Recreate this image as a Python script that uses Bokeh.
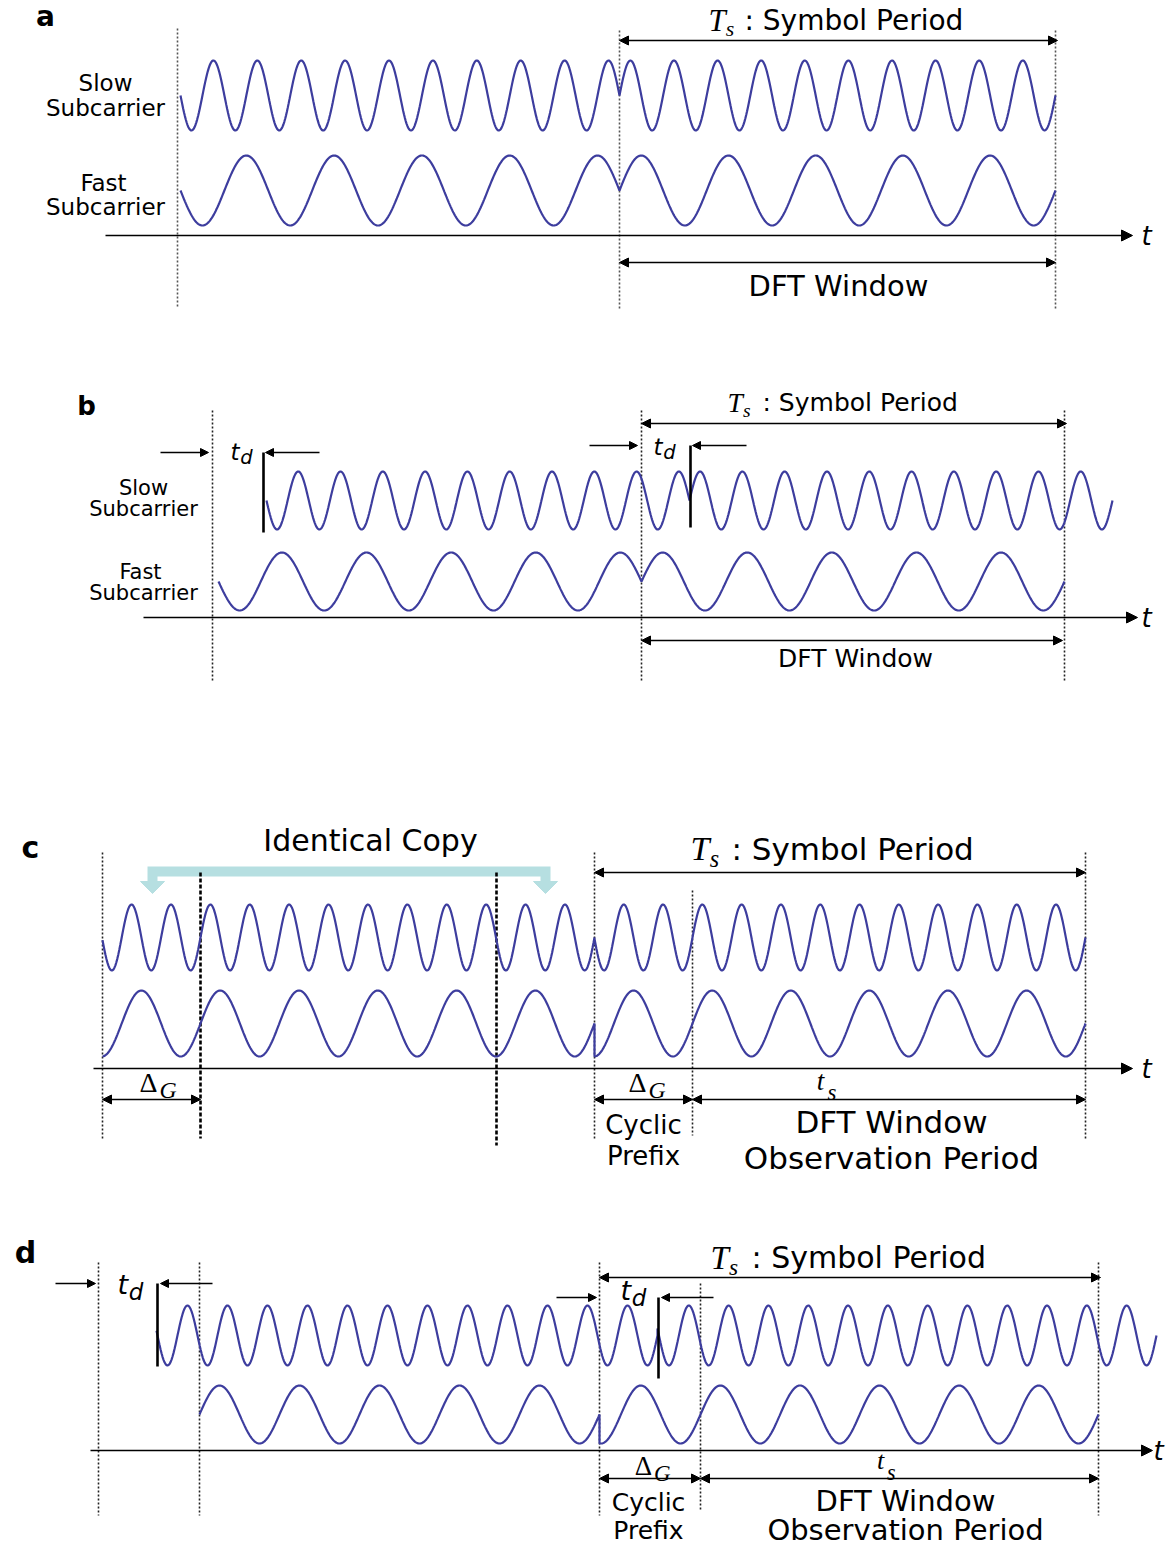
import numpy as np
from bokeh.plotting import figure
from bokeh.models import Range1d, Arrow, NormalHead
from bokeh.core.properties import value
from bokeh.embed import file_html
from bokeh.resources import INLINE

# ---------------------------------------------------------------------------
# Timing of the OFDM symbols (time measured along each panel's t axis)
# ---------------------------------------------------------------------------
A_EDGES = [180, 619, 1055]          # symbol boundaries, no guard interval
A_SIGNS = [-1, 1]                   # phase of each symbol
B_EDGES = [218, 641, 1064]
B_SIGNS = [-1, 1]
B_DELAY = 48                        # t_d of the delayed (upper) carrier
C_EDGES = [102, 594, 1085]          # symbols with cyclic prefix
C_CP = 98                           # Delta_G
D_EDGES = [98, 599, 1098]
D_CP = 101
D_DELAY = 58
CYCLES_UPPER = 10                   # cycles per symbol body, upper trace
CYCLES_LOWER = 5                    # cycles per symbol body, lower trace

W, H = 1167, 1548
WAVE = "#3d3d9e"
SANS = "DejaVu Sans"
SERIF = "Liberation Serif"

p = figure(width=W, height=H, x_range=Range1d(0, W), y_range=Range1d(H, 0),
           output_backend="svg", toolbar_location=None, min_border=0)
p.axis.visible = False
p.grid.visible = False
p.outline_line_color = None
p.background_fill_color = "white"
p.border_fill_color = "white"


def plain_symbols(edges, signs, cycles, delay=0.0, n=500):
    xs, vs = [], []
    for (s, e), sg in zip(zip(edges[:-1], edges[1:]), signs):
        x = np.linspace(s, e, n)
        xs.append(x + delay)
        vs.append(sg * np.sin(2 * np.pi * cycles * (x - s) / (e - s)))
    return np.concatenate(xs), np.concatenate(vs)


def cp_symbols(edges, cp, cycles, delay=0.0, skip_first_cp=False, n=500):
    xs, vs = [], []
    for i, (s, e) in enumerate(zip(edges[:-1], edges[1:])):
        body = s + cp
        x0 = body if (i == 0 and skip_first_cp) else s
        x = np.linspace(x0, e, n)
        xs.append(x + delay)
        vs.append(np.sin(2 * np.pi * cycles * (x - body) / (e - body)))
    return np.concatenate(xs), np.concatenate(vs)


def wave(xv, center, amp):
    x, v = xv
    p.line(x, center - amp * v, line_color=WAVE, line_width=2.2)


def txt(x, y, s, size, font=SANS, style="normal", align="left", color="black"):
    p.text(x=[x], y=[y], text=[s], text_font=value(font),
           text_font_size=f"{size}px", text_font_style=style,
           text_align=align, text_baseline="middle", text_color=color)


def head(size):
    return NormalHead(size=size, fill_color="black", line_color="black", line_width=1)


def arrow(x0, y0, x1, y1, both=False, size=9, lw=1.6):
    p.add_layout(Arrow(x_start=x0, y_start=y0, x_end=x1, y_end=y1,
                       end=head(size), start=head(size) if both else None,
                       line_color="black", line_width=lw))


def vdots(xs, tops, bottoms, color="#333333", lw=1.6, dash="2 2"):
    p.segment(x0=xs, y0=tops, x1=xs, y1=bottoms, line_color=color,
              line_width=lw, line_dash=dash)


def ts_label(x_t, x_colon, y, size):
    txt(x_t, y, "T", size * 1.1, SERIF, "italic")
    txt(x_t + 0.62 * size, y + 0.32 * size, "s", size * 0.78, SERIF, "italic")
    txt(x_colon, y, ": Symbol Period", size)


def td_label(x, y, size):
    txt(x, y, "t", size, SANS, "italic")
    txt(x + 0.42 * size, y + 0.28 * size, "d", size * 0.85, SANS, "italic")


def delta_g(x, y, size):
    txt(x, y, "\u0394", size, SERIF, "normal", "center")
    txt(x + 0.7 * size, y + 0.28 * size, "G", size * 0.85, SERIF, "italic", "center")


def t_s(x, y, size):
    txt(x, y, "t", size, SERIF, "italic", "center")
    txt(x + 0.42 * size, y + 0.45 * size, "s", size * 0.85, SERIF, "italic", "center")


def time_axis(x0, x1, y, tx):
    arrow(x0, y, x1, y, size=11, lw=1.6)
    txt(tx, y, "t", 26, SANS, "italic", "center")


# ---------------------------------------------------------------- panel a --
txt(45, 16, "a", 28, SANS, "bold", "center")
txt(105, 82, "Slow", 23, align="center")
txt(105, 107, "Subcarrier", 23, align="center")
txt(103, 182, "Fast", 23, align="center")
txt(105, 206, "Subcarrier", 23, align="center")
vdots([177, A_EDGES[1], A_EDGES[2]], [28, 30, 30], [308, 308, 308], color="#555555")
wave(plain_symbols(A_EDGES, A_SIGNS, CYCLES_UPPER), 95, 35)
wave(plain_symbols(A_EDGES, A_SIGNS, CYCLES_LOWER), 190, 35)
time_axis(105, 1132, 235, 1146)
ts_label(708, 744, 20, 28)
arrow(A_EDGES[1], 40, A_EDGES[2] + 2, 40, both=True)
arrow(A_EDGES[1], 262, A_EDGES[2], 262, both=True)
txt(838, 285, "DFT Window", 29, align="center")

# ---------------------------------------------------------------- panel b --
txt(86, 405, "b", 26, SANS, "bold", "center")
txt(143, 487, "Slow", 21, align="center")
txt(143, 508, "Subcarrier", 21, align="center")
txt(140, 571, "Fast", 21, align="center")
txt(143, 592, "Subcarrier", 21, align="center")
vdots([212, B_EDGES[1], B_EDGES[2]], [410, 410, 410], [680, 680, 680], color="#222222")
wave(plain_symbols(B_EDGES, B_SIGNS, CYCLES_UPPER, B_DELAY), 500, 29)
wave(plain_symbols(B_EDGES, B_SIGNS, CYCLES_LOWER), 581, 29)
time_axis(143, 1137, 617, 1146)
ts_label(727, 762, 402, 25)
arrow(B_EDGES[1], 423, B_EDGES[2] + 2, 423, both=True)
arrow(B_EDGES[1], 640, B_EDGES[2] - 2, 640, both=True)
txt(855, 658, "DFT Window", 25, align="center")
for edge, y_mark, bottom in [(212, 452, 532), (B_EDGES[1], 445, 527)]:
    xb = edge + 51 if edge == 212 else edge + B_DELAY + 1
    arrow(edge - 52, y_mark, edge - 4, y_mark, size=8, lw=1.4)
    arrow(xb + 56, y_mark, xb + 2, y_mark, size=8, lw=1.4)
    p.segment(x0=[xb], y0=[y_mark], x1=[xb], y1=[bottom], line_color="black", line_width=2.6)
td_label(230, 451, 23)
td_label(653, 446, 23)

# ---------------------------------------------------------------- panel c --
txt(30, 847, "c", 30, SANS, "bold", "center")
txt(370, 840, "Identical Copy", 30, align="center")
# light-blue bracket: the end of the symbol is copied to its front
BR = "#b6dfe1"
p.multi_line(xs=[[152, 152, 545, 545]], ys=[[884, 871, 871, 884]],
             line_color=BR, line_width=10, line_join="miter")
p.patches(xs=[[140, 164, 152], [533, 557, 545]], ys=[[881, 881, 893], [881, 881, 893]],
          fill_color=BR, line_color=BR)
c_body0 = C_EDGES[0] + C_CP
c_copy0 = C_EDGES[1] - C_CP
vdots([C_EDGES[0], C_EDGES[1], C_EDGES[1] + C_CP, C_EDGES[2]],
      [852, 852, 890, 852], [1140, 1140, 1135, 1140], color="#222222")
vdots([c_body0, c_copy0], [872, 872], [1138, 1145], color="black", lw=2.6, dash="4 2")
wave(cp_symbols(C_EDGES, C_CP, CYCLES_UPPER), 937, 33)
wave(cp_symbols(C_EDGES, C_CP, CYCLES_LOWER), 1023, 33)
time_axis(93, 1132, 1068, 1146)
ts_label(690, 731, 848, 31)
arrow(C_EDGES[1], 872, C_EDGES[2], 872, both=True)
arrow(C_EDGES[0], 1099, c_body0, 1099, both=True)
arrow(C_EDGES[1], 1099, C_EDGES[1] + C_CP, 1099, both=True)
arrow(C_EDGES[1] + C_CP, 1099, C_EDGES[2], 1099, both=True)
delta_g(148, 1082, 28)
delta_g(637, 1082, 28)
t_s(820, 1080, 27)
txt(643, 1124, "Cyclic", 26, align="center")
txt(643, 1155, "Prefix", 26, align="center")
txt(891, 1121, "DFT Window", 31, align="center")
txt(891, 1157, "Observation Period", 31, align="center")

# ---------------------------------------------------------------- panel d --
txt(25, 1252, "d", 30, SANS, "bold", "center")
d_body1 = D_EDGES[1] + D_CP
vdots([D_EDGES[0], D_EDGES[0] + D_CP, D_EDGES[1], d_body1, D_EDGES[2]],
      [1262, 1262, 1262, 1283, 1262], [1515, 1515, 1515, 1510, 1515], color="#222222")
wave(cp_symbols(D_EDGES, D_CP, CYCLES_UPPER, D_DELAY), 1335, 30)
wave(cp_symbols(D_EDGES, D_CP, CYCLES_LOWER, skip_first_cp=True), 1414, 29)
time_axis(90, 1152, 1450, 1158)
ts_label(710, 751, 1257, 30)
arrow(D_EDGES[1], 1277, D_EDGES[2] + 2, 1277, both=True)
for edge, y_mark, bottom in [(D_EDGES[0], 1283, 1366), (D_EDGES[1], 1297, 1378)]:
    xb = edge + D_DELAY + 1
    arrow(edge - 43, y_mark, edge - 3, y_mark, size=8, lw=1.4)
    arrow(xb + 55, y_mark, xb + 3, y_mark, size=8, lw=1.4)
    p.segment(x0=[xb], y0=[y_mark], x1=[xb], y1=[bottom], line_color="black", line_width=2.6)
td_label(117, 1284, 27)
td_label(620, 1290, 27)
arrow(D_EDGES[1], 1478, d_body1, 1478, both=True)
arrow(d_body1, 1478, D_EDGES[2], 1478, both=True)
delta_g(643, 1465, 27)
t_s(880, 1460, 26)
txt(648, 1502, "Cyclic", 25, align="center")
txt(648, 1530, "Prefix", 25, align="center")
txt(905, 1500, "DFT Window", 29, align="center")
txt(905, 1529, "Observation Period", 29, align="center")

open("out.html", "w").write(file_html(p, INLINE))
